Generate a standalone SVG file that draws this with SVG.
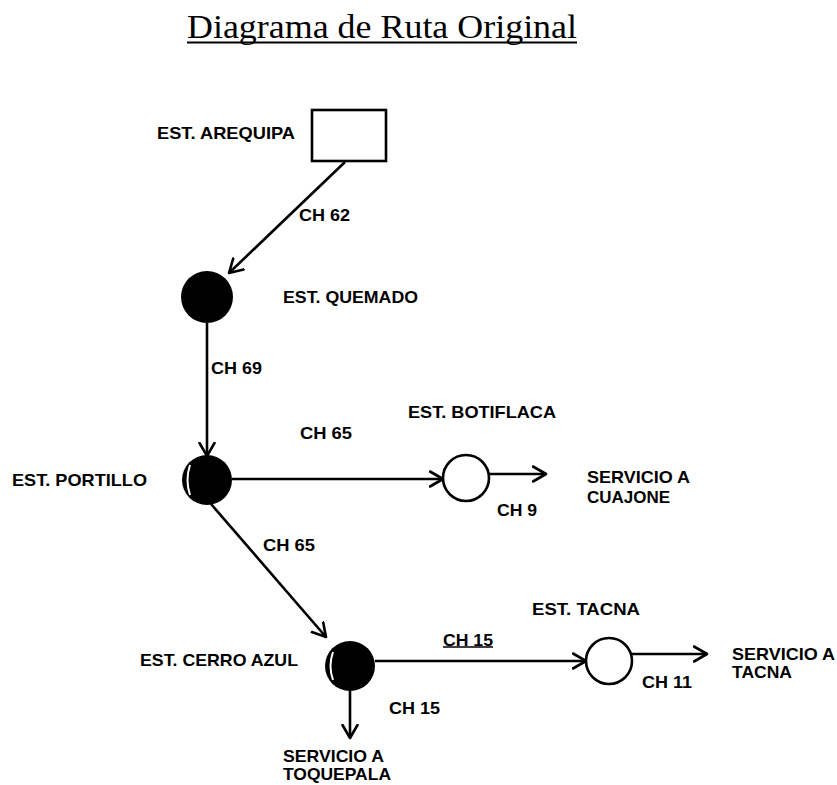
<svg xmlns="http://www.w3.org/2000/svg" width="837" height="785" viewBox="0 0 837 785">
<defs>
<marker id="arr" viewBox="0 0 16 18" refX="14" refY="9" markerWidth="16" markerHeight="18" markerUnits="userSpaceOnUse" orient="auto">
<path d="M1,1.5 L14,9 L1,16.5" fill="none" stroke="#000" stroke-width="2.6" stroke-linecap="round" stroke-linejoin="round"/>
</marker>
</defs>
<style>
.lbl{font-family:"Liberation Sans",Arial,sans-serif;font-weight:bold;font-size:17px;fill:#000}
.ch{font-family:"Liberation Sans",Arial,sans-serif;font-weight:bold;font-size:16px;fill:#000}
.ln{stroke:#000;stroke-width:2.6;fill:none}
.ring{fill:#fff;stroke:#000;stroke-width:2.6}
.dot{fill:#000}
</style>
<rect width="837" height="785" fill="#fff"/>
<g id="title">
<text x="187" y="38" font-family="'Liberation Serif','Times New Roman',serif" font-size="34" textLength="390" lengthAdjust="spacingAndGlyphs">Diagrama de Ruta Original</text>
<line x1="187" y1="42.5" x2="577" y2="42.5" stroke="#000" stroke-width="2"/>
</g>
<g id="connectors">
<line class="ln" x1="345" y1="162" x2="229" y2="273" marker-end="url(#arr)"/>
<line class="ln" x1="207" y1="323" x2="207" y2="456" marker-end="url(#arr)"/>
<line class="ln" x1="232" y1="479" x2="443" y2="479" marker-end="url(#arr)"/>
<line class="ln" x1="489" y1="474" x2="546" y2="474" marker-end="url(#arr)"/>
<line class="ln" x1="211" y1="504" x2="326" y2="637" marker-end="url(#arr)"/>
<line class="ln" x1="375" y1="661" x2="586" y2="661" marker-end="url(#arr)"/>
<line class="ln" x1="350" y1="691" x2="350" y2="738" marker-end="url(#arr)"/>
<line class="ln" x1="632" y1="654" x2="707" y2="654" marker-end="url(#arr)"/>
<text class="ch" x="299" y="221" textLength="51" lengthAdjust="spacingAndGlyphs">CH 62</text>
<text class="ch" x="211" y="374" textLength="51" lengthAdjust="spacingAndGlyphs">CH 69</text>
<text class="ch" x="300" y="439" textLength="52" lengthAdjust="spacingAndGlyphs">CH 65</text>
<text class="ch" x="497" y="516" textLength="40" lengthAdjust="spacingAndGlyphs">CH 9</text>
<text class="ch" x="263" y="551" textLength="52" lengthAdjust="spacingAndGlyphs">CH 65</text>
<text class="ch" x="443" y="646" textLength="50" lengthAdjust="spacingAndGlyphs">CH 15</text>
<line x1="443" y1="647" x2="493" y2="647" stroke="#000" stroke-width="1.5"/>
<text class="ch" x="389" y="714" textLength="51" lengthAdjust="spacingAndGlyphs">CH 15</text>
<text class="ch" x="642" y="688" textLength="50" lengthAdjust="spacingAndGlyphs">CH 11</text>
</g>
<g id="arequipa">
<rect x="312" y="110" width="74" height="51" fill="#fff" stroke="#000" stroke-width="2.6"/>
<text class="lbl" x="157" y="139" textLength="138" lengthAdjust="spacingAndGlyphs">EST. AREQUIPA</text>
</g>
<g id="quemado">
<circle class="dot" cx="207" cy="297" r="26"/>
<text class="lbl" x="283" y="303" textLength="135" lengthAdjust="spacingAndGlyphs">EST. QUEMADO</text>
</g>
<g id="portillo">
<circle class="dot" cx="207" cy="480" r="25"/>
<path d="M190,465 Q185,480 190,495" fill="none" stroke="#fff" stroke-width="2"/>
<text class="lbl" x="12" y="486" textLength="135" lengthAdjust="spacingAndGlyphs">EST. PORTILLO</text>
</g>
<g id="botiflaca">
<circle class="ring" cx="466" cy="478" r="23"/>
<text class="lbl" x="408" y="418" textLength="148" lengthAdjust="spacingAndGlyphs">EST. BOTIFLACA</text>
</g>
<g id="cuajone">
<text class="lbl" x="587" y="483" textLength="103" lengthAdjust="spacingAndGlyphs">SERVICIO A</text>
<text class="lbl" x="587" y="503" textLength="83" lengthAdjust="spacingAndGlyphs">CUAJONE</text>
</g>
<g id="cerroazul">
<circle class="dot" cx="350" cy="666" r="25"/>
<path d="M333,652 Q328,666 333,680" fill="none" stroke="#fff" stroke-width="2"/>
<text class="lbl" x="140" y="666" textLength="158" lengthAdjust="spacingAndGlyphs">EST. CERRO AZUL</text>
</g>
<g id="toquepala">
<text class="lbl" x="283" y="762" textLength="101" lengthAdjust="spacingAndGlyphs">SERVICIO A</text>
<text class="lbl" x="283" y="780" textLength="108" lengthAdjust="spacingAndGlyphs">TOQUEPALA</text>
</g>
<g id="tacna">
<circle class="ring" cx="609" cy="661" r="23"/>
<text class="lbl" x="532" y="615" textLength="108" lengthAdjust="spacingAndGlyphs">EST. TACNA</text>
</g>
<g id="servtacna">
<text class="lbl" x="732" y="660" textLength="103" lengthAdjust="spacingAndGlyphs">SERVICIO A</text>
<text class="lbl" x="732" y="678" textLength="60" lengthAdjust="spacingAndGlyphs">TACNA</text>
</g>
</svg>
